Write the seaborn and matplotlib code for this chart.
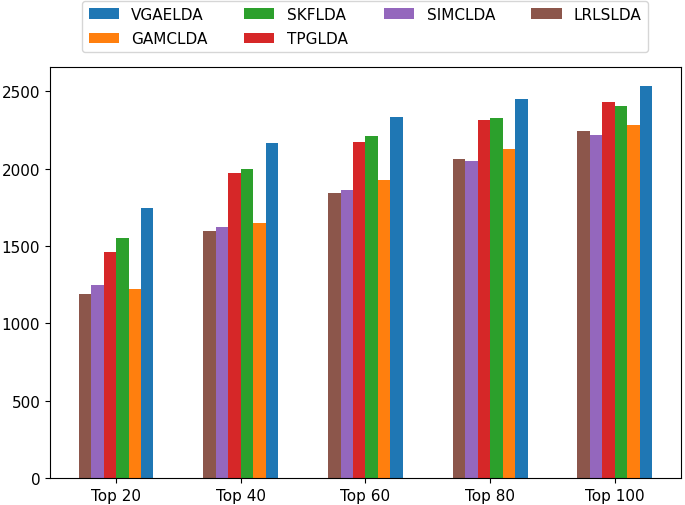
import pandas as pd
import seaborn as sns
import matplotlib
matplotlib.use('Agg')
import matplotlib.pyplot as plt

# values
groups = ['Top 20', 'Top 40', 'Top 60', 'Top 80', 'Top 100']
lrlslda = [1190, 1595, 1843, 2062, 2243]
simclda = [1248, 1622, 1865, 2053, 2220]
tpglda = [1460, 1975, 2173, 2313, 2432]
skflda = [1553, 1996, 2210, 2325, 2404]
gamclda = [1225, 1650, 1928, 2130, 2281]
vgaelda = [1748, 2163, 2336, 2450, 2532]

methods = ['LRLSLDA', 'SIMCLDA', 'TPGLDA', 'SKFLDA', 'GAMCLDA', 'VGAELDA']
series = [lrlslda, simclda, tpglda, skflda, gamclda, vgaelda]
colors = {'VGAELDA': '#1f77b4', 'GAMCLDA': '#ff7f0e', 'SKFLDA': '#2ca02c',
          'TPGLDA': '#d62728', 'SIMCLDA': '#9467bd', 'LRLSLDA': '#8c564b'}
legend_order = ['VGAELDA', 'GAMCLDA', 'SKFLDA', 'TPGLDA', 'SIMCLDA', 'LRLSLDA']

rows = []
for m, vals in zip(methods, series):
    for g, v in zip(groups, vals):
        rows.append({'group': g, 'method': m, 'value': v})
df = pd.DataFrame(rows)

plt.rcParams['font.size'] = 11

fig = plt.figure(figsize=(6.85, 5.06), dpi=100)
ax = fig.add_axes([0.073, 0.053, 0.921, 0.813])

sns.barplot(data=df, x='group', y='value', hue='method', order=groups,
            hue_order=methods, palette=colors, width=0.6, gap=0,
            saturation=1, ax=ax)

ax.set_xlim(-0.53, 4.53)
ax.set_xlabel('')
ax.set_ylabel('')

# legend above the axes, in the reference's order
handles, labels = ax.get_legend_handles_labels()
ax.get_legend().remove()
hmap = dict(zip(labels, handles))
fig.legend([hmap[l] for l in legend_order], legend_order, ncol=4,
           loc='upper center', bbox_to_anchor=(0.533, 0.996),
           borderaxespad=0, columnspacing=2.37, labelspacing=0.6)

fig.savefig('out.png', dpi=100)
